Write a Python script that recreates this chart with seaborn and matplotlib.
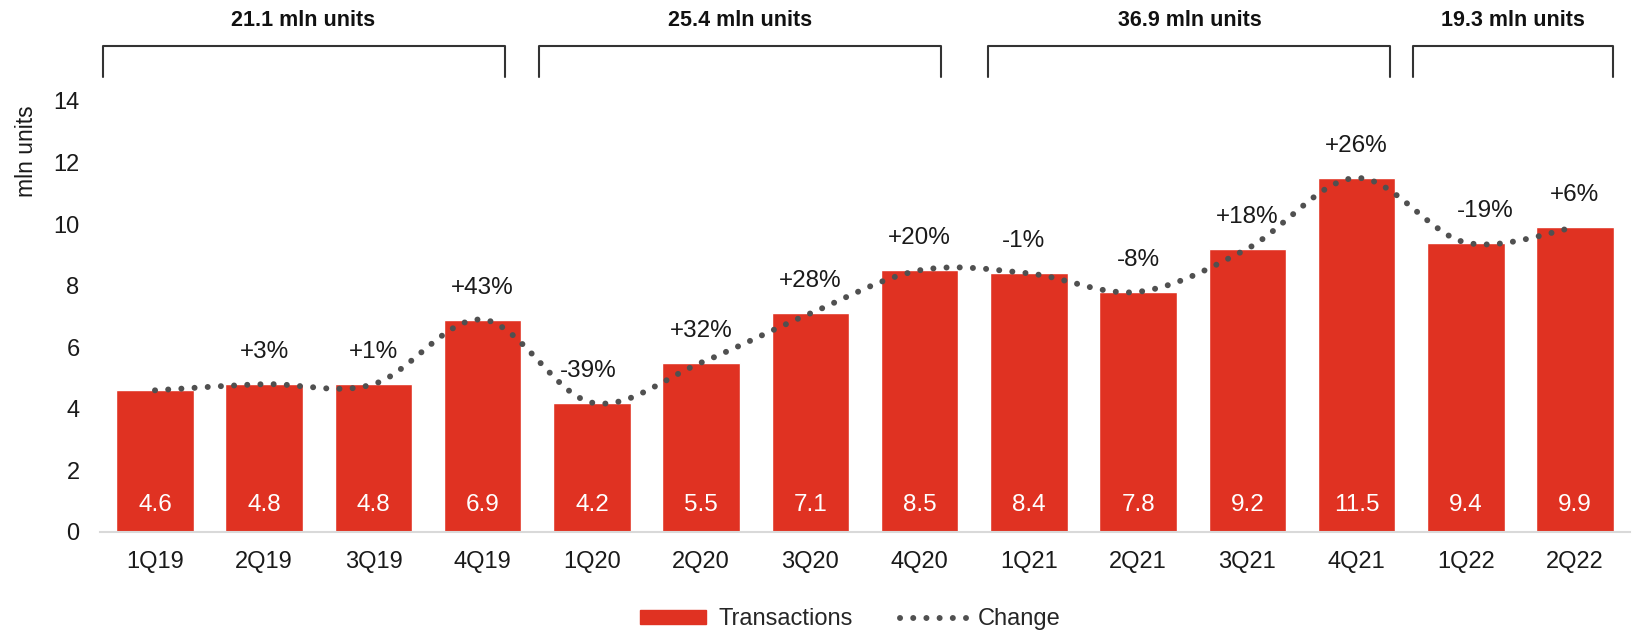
import matplotlib
matplotlib.use("Agg")
import matplotlib.pyplot as plt
from matplotlib.path import Path
from matplotlib.patches import PathPatch
from matplotlib.lines import Line2D
import seaborn as sns
import pandas as pd

# DATA ===========================================================================================================

quarters = ["1Q19", "2Q19", "3Q19", "4Q19", "1Q20", "2Q20", "3Q20", "4Q20",
            "1Q21", "2Q21", "3Q21", "4Q21", "1Q22", "2Q22"]
transactions = [4.6, 4.8, 4.8, 6.9, 4.2, 5.5, 7.1, 8.5, 8.4, 7.8, 9.2, 11.5, 9.4, 9.9]
change_labels = ["", "+3%", "+1%", "+43%", "-39%", "+32%", "+28%", "+20%",
                 "-1%", "-8%", "+18%", "+26%", "-19%", "+6%"]
year_totals = ["21.1 mln units", "25.4 mln units", "36.9 mln units", "19.3 mln units"]

# bracket edges in category units (layout only)
bracket_spans = [(-0.48, 3.2), (3.52, 7.2), (7.63, 11.31), (11.52, 13.35)]
label_nudge = {"-19%": 14, "-1%": -4, "-39%": -3}

bar_red = "#E03222"
dot_grey = "#505050"

# PLOTTER ========================================================================================================

sns.set_style("white")
plt.rcParams["font.family"] = ["Liberation Sans", "DejaVu Sans"]

df = pd.DataFrame({"quarter": quarters, "value": transactions})

fig = plt.figure(figsize=(16.35, 6.34), dpi=100)
ax = fig.add_axes([0.0614, 0.161, 0.9353, 0.6797])

sns.barplot(data=df, x="quarter", y="value", color=bar_red, saturation=1, width=0.71, ax=ax)

# smoothed dotted line through bar tops (Catmull-Rom as cubic bezier)
pts = list(enumerate(transactions))
verts = [pts[0]]
codes = [Path.MOVETO]
for i in range(len(pts) - 1):
    p0 = pts[max(i - 1, 0)]
    p1 = pts[i]
    p2 = pts[i + 1]
    p3 = pts[min(i + 2, len(pts) - 1)]
    c1 = (p1[0] + (p2[0] - p0[0]) / 6, p1[1] + (p2[1] - p0[1]) / 6)
    c2 = (p2[0] - (p3[0] - p1[0]) / 6, p2[1] - (p3[1] - p1[1]) / 6)
    verts += [c1, c2, p2]
    codes += [Path.CURVE4] * 3
dots = (0, (0.01, 2.2))
curve = PathPatch(Path(verts, codes), facecolor="none", edgecolor=dot_grey, linewidth=4.3,
                  linestyle=dots, capstyle="round", zorder=3)
ax.add_patch(curve)

for i, v in enumerate(transactions):
    ax.annotate(f"{v:.1f}", xy=(i, 0), xytext=(0, 19.5), textcoords="offset points",
                ha="center", va="center", color="white", fontsize=17.5)
    if change_labels[i]:
        dx = label_nudge.get(change_labels[i], 0)
        ax.annotate(change_labels[i], xy=(i, v), xytext=(dx, 23), textcoords="offset points",
                    ha="center", va="center", color="#1a1a1a", fontsize=17.5)

# year brackets
trans = ax.get_xaxis_transform()
for (x0, x1), label in zip(bracket_spans, year_totals):
    ax.plot([x0, x0, x1, x1], [1.056, 1.128, 1.128, 1.056], color="#333333", linewidth=1.5,
            transform=trans, clip_on=False)
    ax.text((x0 + x1) / 2, 1.186, label, transform=trans, ha="center", va="center",
            fontsize=15.5, fontweight="bold", color="#111111")

ax.set_ylim(0, 14)
ax.set_xlim(-0.5, len(quarters) - 0.5)
ax.set_yticks(range(0, 15, 2))
ax.set_xlabel("")
ax.set_ylabel("mln units", fontsize=16.5, color="#1a1a1a")
ax.yaxis.set_label_coords(-0.041, 0.884)
ax.tick_params(axis="both", length=0, labelsize=17, colors="#1a1a1a")
ax.tick_params(axis="y", pad=15)
ax.tick_params(axis="x", pad=14)
sns.despine(ax=ax, left=True)
ax.spines["bottom"].set_color("#D9D9D9")
ax.spines["bottom"].set_linewidth(1.5)

handles = [plt.Rectangle((0, 0), 1, 1, color=bar_red),
           Line2D([], [], color=dot_grey, linewidth=4.3, linestyle=dots, dash_capstyle="round")]
fig.legend(handles, ["Transactions", "Change"], loc="center", bbox_to_anchor=(0.52, 0.023),
           ncol=2, frameon=False, fontsize=17, handlelength=2.8, handleheight=0.55,
           columnspacing=2.0, handletextpad=0.5)

plt.savefig("out.png", dpi=100)
